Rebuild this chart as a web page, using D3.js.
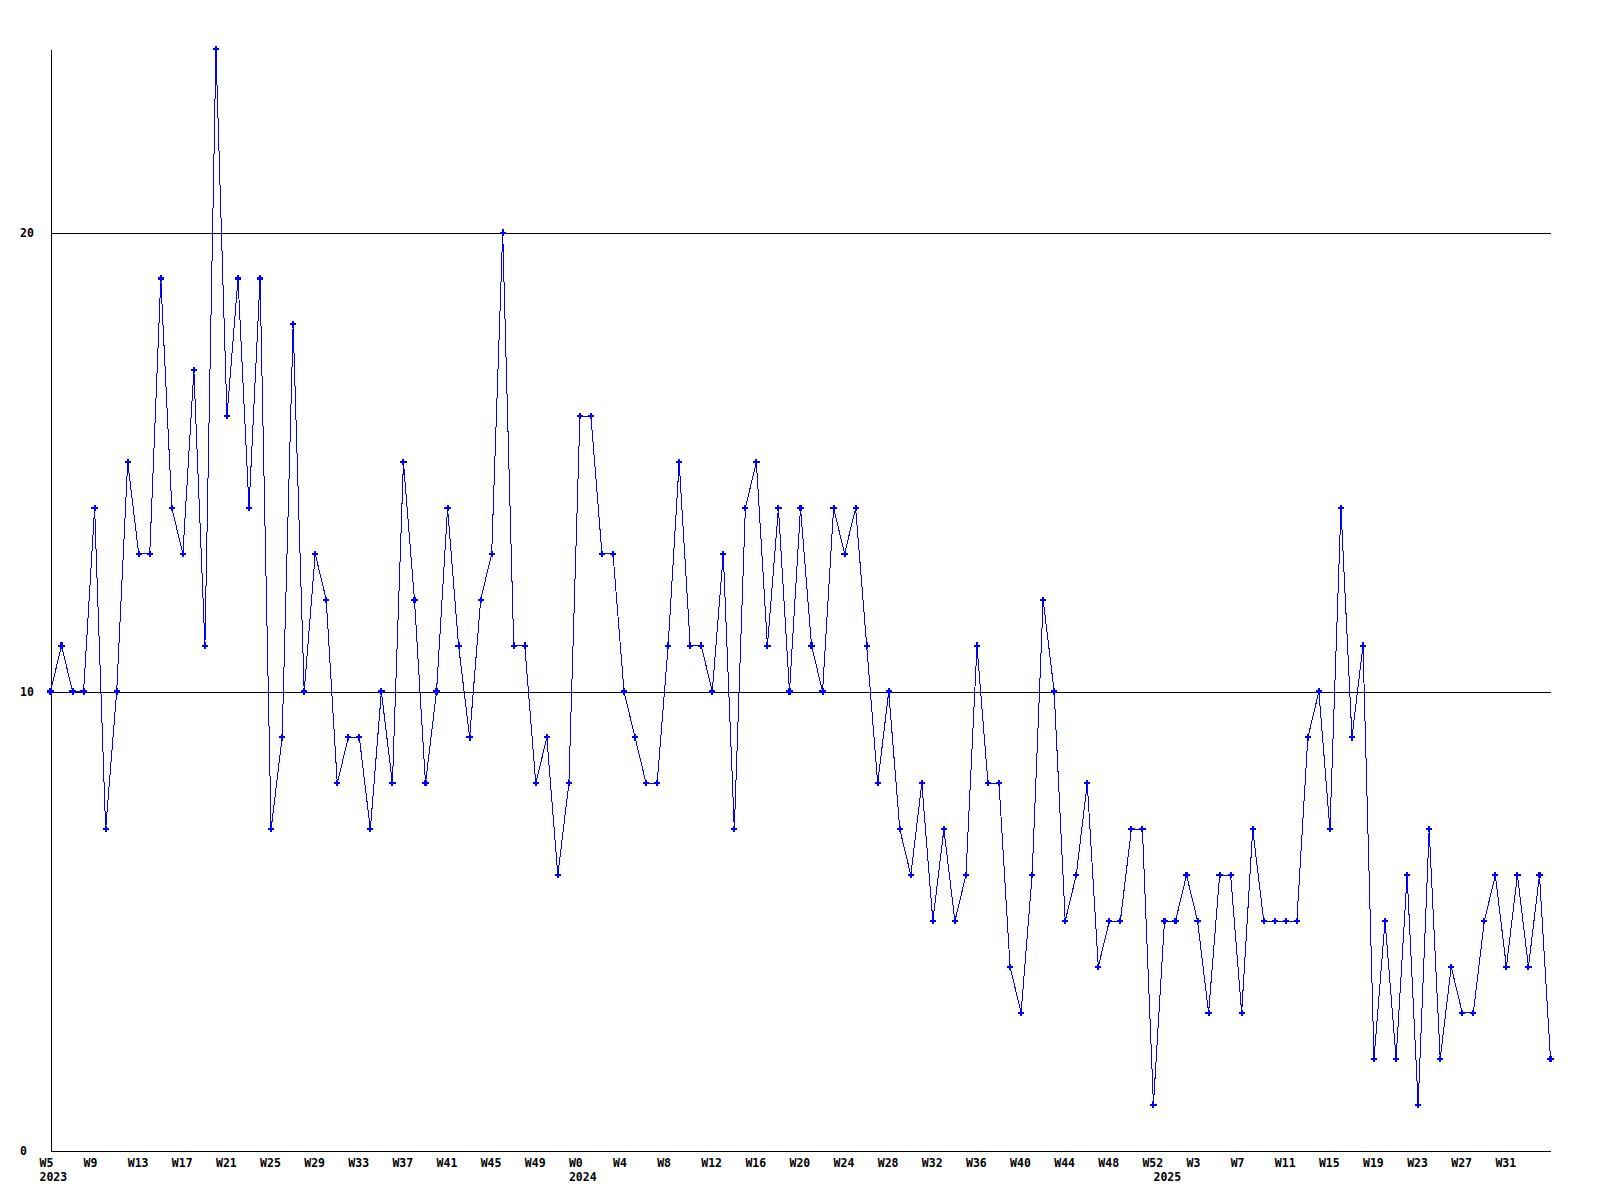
<!DOCTYPE html>
<html>
<head>
<meta charset="utf-8">
<script src="https://cdn.jsdelivr.net/npm/d3@7"></script>
<style>
  html, body { margin: 0; padding: 0; background: #ffffff; }
  svg { display: block; }
  text { font-family: "DejaVu Sans Mono", "Liberation Mono", monospace; font-weight: bold; font-size: 11.5px; fill: #000; }
</style>
</head>
<body>
<svg id="chart" width="1600" height="1200"></svg>
<script>
// Week segments (year, first week, last week) — weekly categories
const yearSegments = [
  { year: 2023, from: 5, to: 52 },
  { year: 2024, from: 0, to: 52 },
  { year: 2025, from: 0, to: 35 }
];

// Weekly values, 2023 W5 .. 2025 W35
const values = [
  10, 11, 10, 10, 14, 7, 10, 15, 13, 13,
  19, 14, 13, 17, 11, 24, 16, 19, 14, 19,
  7, 9, 18, 10, 13, 12, 8, 9, 9, 7,
  10, 8, 15, 12, 8, 10, 14, 11, 9, 12,
  13, 20, 11, 11, 8, 9, 6, 8, 16, 16,
  13, 13, 10, 9, 8, 8, 11, 15, 11, 11,
  10, 13, 7, 14, 15, 11, 14, 10, 14, 11,
  10, 14, 13, 14, 11, 8, 10, 7, 6, 8,
  5, 7, 5, 6, 11, 8, 8, 4, 3, 6,
  12, 10, 5, 6, 8, 4, 5, 5, 7, 7,
  1, 5, 5, 6, 5, 3, 6, 6, 3, 7,
  5, 5, 5, 5, 9, 10, 7, 14, 9, 11,
  2, 5, 2, 6, 1, 7, 2, 4, 3, 3,
  5, 6, 4, 6, 4, 6, 2
];

// X tick labels (every 4th week)
const tickLabels = [
  "W5", "W9", "W13", "W17", "W21", "W25", "W29", "W33", "W37", "W41", "W45", "W49",
  "W0", "W4", "W8", "W12", "W16", "W20", "W24", "W28", "W32", "W36", "W40", "W44", "W48", "W52",
  "W3", "W7", "W11", "W15", "W19", "W23", "W27", "W31"
];
const tickKeys = [
  "2023-5", "2023-9", "2023-13", "2023-17", "2023-21", "2023-25", "2023-29", "2023-33", "2023-37", "2023-41", "2023-45", "2023-49",
  "2024-0", "2024-4", "2024-8", "2024-12", "2024-16", "2024-20", "2024-24", "2024-28", "2024-32", "2024-36", "2024-40", "2024-44", "2024-48", "2024-52",
  "2025-3", "2025-7", "2025-11", "2025-15", "2025-19", "2025-23", "2025-27", "2025-31"
];
// Year labels and the week where each is placed
const yearLabels = ["2023", "2024", "2025"];
const yearKeys = ["2023-5", "2024-0", "2025-0"];

// Y axis
const yTicks = [0, 10, 20];
const yMax = 24;

// Build weekly category keys
const weeks = [];
yearSegments.forEach(s => { for (let w = s.from; w <= s.to; w++) weeks.push(s.year + "-" + w); });

const svg = d3.select("#chart");
const plotLeft = 50.5, plotRight = 1550.5, plotTop = 49, plotBottom = 1150.5;

const x = d3.scalePoint().domain(weeks).range([plotLeft, plotRight]);
const y = d3.scaleLinear().domain([0, yMax]).range([plotBottom, plotTop]);

// Gridlines
svg.append("g").selectAll("line")
  .data(yTicks.filter(d => d > 0))
  .join("line")
  .attr("x1", plotLeft).attr("x2", plotRight)
  .attr("y1", d => Math.round(y(d)) + 0.5).attr("y2", d => Math.round(y(d)) + 0.5)
  .attr("stroke", "#000").attr("stroke-width", 1)
  .attr("shape-rendering", "crispEdges");

// Axes
const yAxis = d3.axisLeft(y).tickValues(yTicks).tickSize(0).tickFormat("");
svg.append("g").attr("transform", `translate(${plotLeft},0)`).call(yAxis)
  .call(g => g.select(".domain").attr("stroke", "#000").attr("shape-rendering", "crispEdges"));
const xAxis = d3.axisBottom(x).tickValues([]).tickSize(0);
svg.append("g").attr("transform", `translate(0,${plotBottom})`).call(xAxis)
  .call(g => g.select(".domain").attr("stroke", "#000").attr("shape-rendering", "crispEdges"));

// Y labels
svg.append("g").selectAll("text")
  .data(yTicks)
  .join("text")
  .attr("x", 20)
  .attr("y", d => y(d) + 4)
  .text(d => d);

// X week labels
svg.append("g").selectAll("text")
  .data(tickLabels)
  .join("text")
  .attr("x", (d, i) => x(tickKeys[i]) - 11)
  .attr("y", 1166.5)
  .text(d => d);

// Year labels
svg.append("g").selectAll("text")
  .data(yearLabels)
  .join("text")
  .attr("x", (d, i) => x(yearKeys[i]) - 11)
  .attr("y", 1181)
  .text(d => d);

// Data line
const data = weeks.map((w, i) => ({ w, v: values[i] }));
svg.append("path")
  .datum(data)
  .attr("fill", "none")
  .attr("stroke", "#0000ff")
  .attr("stroke-width", 1)
  .attr("shape-rendering", "crispEdges")
  .attr("d", d3.line().x(d => x(d.w)).y(d => y(d.v)));

// Markers
svg.append("g").selectAll("path")
  .data(data)
  .join("path")
  .attr("transform", d => `translate(${x(d.w)},${y(d.v)})`)
  .attr("d", d3.symbol().type(d3.symbolCross).size(22))
  .attr("fill", "#0000ff")
  .attr("shape-rendering", "crispEdges");
</script>
</body>
</html>
